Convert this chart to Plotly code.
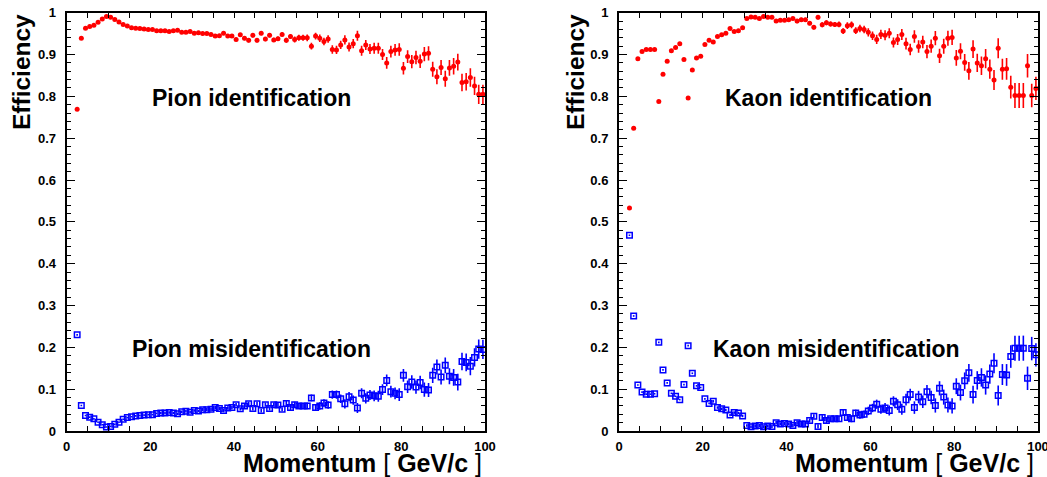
import plotly.graph_objects as go

# momentum bin centres (GeV/c)
momentum = [2.5 + i for i in range(98)]

pion_id = [0.769, 0.939, 0.963, 0.967, 0.970, 0.977, 0.985, 0.991, 0.989, 0.984,
           0.978, 0.972, 0.968, 0.964, 0.963, 0.962, 0.961, 0.960, 0.960, 0.957,
           0.957, 0.957, 0.955, 0.957, 0.958, 0.953, 0.953, 0.955, 0.951, 0.952,
           0.950, 0.950, 0.948, 0.944, 0.945, 0.951, 0.944, 0.944, 0.936, 0.947,
           0.939, 0.934, 0.946, 0.934, 0.951, 0.937, 0.946, 0.935, 0.938, 0.948,
           0.934, 0.943, 0.936, 0.940, 0.940, 0.940, 0.920, 0.944, 0.939, 0.931,
           0.937, 0.912, 0.911, 0.923, 0.935, 0.918, 0.926, 0.945, 0.909, 0.923,
           0.913, 0.915, 0.915, 0.900, 0.880, 0.907, 0.911, 0.912, 0.867, 0.895,
           0.883, 0.893, 0.884, 0.901, 0.903, 0.865, 0.847, 0.869, 0.842, 0.868,
           0.872, 0.882, 0.833, 0.835, 0.845, 0.825, 0.805, 0.805]

pion_mis = [0.230, 0.061, 0.037, 0.033, 0.029, 0.021, 0.015, 0.0095, 0.011, 0.016,
            0.021, 0.028, 0.032, 0.034, 0.036, 0.037, 0.038, 0.039, 0.039, 0.042,
            0.043, 0.043, 0.044, 0.043, 0.041, 0.046, 0.047, 0.045, 0.049, 0.048,
            0.051, 0.051, 0.052, 0.056, 0.054, 0.049, 0.055, 0.056, 0.063, 0.053,
            0.060, 0.065, 0.054, 0.065, 0.049, 0.063, 0.054, 0.063, 0.062, 0.052,
            0.066, 0.056, 0.063, 0.060, 0.060, 0.060, 0.079, 0.056, 0.060, 0.067,
            0.062, 0.087, 0.087, 0.077, 0.065, 0.082, 0.074, 0.055, 0.090, 0.078,
            0.086, 0.084, 0.083, 0.099, 0.121, 0.094, 0.090, 0.087, 0.133, 0.106,
            0.117, 0.105, 0.116, 0.099, 0.098, 0.133, 0.153, 0.129, 0.157, 0.131,
            0.128, 0.117, 0.166, 0.164, 0.155, 0.176, 0.196, 0.195]

kaon_id = [0.533, 0.724, 0.890, 0.907, 0.912, 0.912, 0.912, 0.788, 0.853, 0.884,
           0.909, 0.917, 0.926, 0.888, 0.796, 0.863, 0.892, 0.896, 0.924, 0.934,
           0.930, 0.943, 0.947, 0.951, 0.962, 0.955, 0.957, 0.964, 0.986, 0.990,
           0.989, 0.986, 0.991, 0.989, 0.989, 0.980, 0.982, 0.982, 0.983, 0.986,
           0.980, 0.983, 0.983, 0.975, 0.965, 0.989, 0.971, 0.976, 0.973, 0.972,
           0.972, 0.956, 0.969, 0.971, 0.957, 0.962, 0.960, 0.953, 0.945, 0.936,
           0.948, 0.946, 0.951, 0.929, 0.936, 0.948, 0.926, 0.912, 0.943, 0.919,
           0.930, 0.907, 0.920, 0.939, 0.897, 0.920, 0.939, 0.941, 0.892, 0.908,
           0.881, 0.861, 0.913, 0.880, 0.873, 0.890, 0.865, 0.839, 0.915, 0.865,
           0.866, 0.822, 0.802, 0.802, 0.802, 0.873, 0.802, 0.819]

kaon_mis = [0.468, 0.275, 0.110, 0.093, 0.088, 0.088, 0.089, 0.212, 0.146, 0.115,
            0.090, 0.083, 0.075, 0.111, 0.204, 0.138, 0.108, 0.104, 0.077, 0.066,
            0.071, 0.056, 0.053, 0.050, 0.038, 0.044, 0.043, 0.036, 0.013, 0.010,
            0.012, 0.013, 0.010, 0.012, 0.011, 0.020, 0.017, 0.018, 0.017, 0.013,
            0.020, 0.017, 0.017, 0.025, 0.035, 0.011, 0.032, 0.025, 0.029, 0.029,
            0.029, 0.044, 0.032, 0.029, 0.043, 0.038, 0.040, 0.048, 0.055, 0.064,
            0.052, 0.055, 0.049, 0.071, 0.063, 0.052, 0.075, 0.087, 0.056, 0.081,
            0.070, 0.094, 0.080, 0.061, 0.102, 0.081, 0.062, 0.060, 0.107, 0.092,
            0.120, 0.139, 0.087, 0.121, 0.128, 0.110, 0.136, 0.162, 0.085, 0.135,
            0.134, 0.178, 0.198, 0.198, 0.198, 0.126, 0.197, 0.182]

pion_err = [0.002, 0.002, 0.002, 0.002, 0.002, 0.002, 0.002, 0.002, 0.002, 0.002,
            0.002, 0.002, 0.002, 0.002, 0.002, 0.002, 0.002, 0.002, 0.002, 0.002,
            0.003, 0.003, 0.003, 0.003, 0.003, 0.003, 0.003, 0.003, 0.003, 0.003,
            0.004, 0.004, 0.004, 0.004, 0.004, 0.004, 0.004, 0.004, 0.004, 0.004,
            0.005, 0.005, 0.005, 0.005, 0.005, 0.005, 0.005, 0.005, 0.005, 0.005,
            0.006, 0.006, 0.007, 0.007, 0.007, 0.008, 0.008, 0.008, 0.009, 0.009,
            0.009, 0.010, 0.010, 0.010, 0.011, 0.011, 0.011, 0.012, 0.012, 0.012,
            0.012, 0.013, 0.013, 0.013, 0.014, 0.014, 0.014, 0.015, 0.015, 0.015,
            0.016, 0.016, 0.016, 0.017, 0.017, 0.018, 0.018, 0.018, 0.019, 0.019,
            0.020, 0.020, 0.021, 0.021, 0.022, 0.022, 0.023, 0.023]

kaon_err = [0.002, 0.002, 0.002, 0.002, 0.002, 0.002, 0.002, 0.002, 0.002, 0.002,
            0.002, 0.002, 0.002, 0.002, 0.002, 0.002, 0.002, 0.002, 0.002, 0.002,
            0.003, 0.003, 0.003, 0.003, 0.003, 0.003, 0.003, 0.003, 0.003, 0.003,
            0.004, 0.004, 0.004, 0.004, 0.004, 0.004, 0.004, 0.004, 0.004, 0.004,
            0.005, 0.005, 0.005, 0.005, 0.005, 0.005, 0.006, 0.006, 0.006, 0.006,
            0.007, 0.007, 0.008, 0.008, 0.008, 0.009, 0.009, 0.010, 0.010, 0.011,
            0.011, 0.012, 0.012, 0.012, 0.013, 0.013, 0.014, 0.014, 0.015, 0.015,
            0.015, 0.016, 0.016, 0.017, 0.017, 0.018, 0.018, 0.018, 0.019, 0.019,
            0.020, 0.021, 0.021, 0.022, 0.022, 0.023, 0.023, 0.024, 0.024, 0.025,
            0.026, 0.027, 0.030, 0.030, 0.030, 0.028, 0.028, 0.028]

x_ticks = [0, 20, 40, 60, 80, 100]
y_ticks = [0, 0.1, 0.2, 0.3, 0.4, 0.5, 0.6, 0.7, 0.8, 0.9, 1]
y_tick_text = ["0", "0.1", "0.2", "0.3", "0.4", "0.5", "0.6", "0.7", "0.8", "0.9", "1"]

W, H = 1047, 477
RED = "#ff0000"
BLUE = "#0000ff"
FONT = "Liberation Sans"


def id_trace(y, err, xa, ya):
    return go.Scatter(
        x=momentum, y=y, mode="markers", xaxis=xa, yaxis=ya,
        marker=dict(symbol="circle", size=5, color=RED, line=dict(width=0)),
        error_y=dict(type="data", array=err, visible=True, color=RED,
                     thickness=1.6, width=0),
        showlegend=False, hoverinfo="x+y")


def mis_trace(y, err, xa, ya):
    return go.Scatter(
        x=momentum, y=y, mode="markers", xaxis=xa, yaxis=ya,
        marker=dict(symbol="square-open", size=5.5, color=BLUE,
                    line=dict(width=1.5, color=BLUE)),
        error_y=dict(type="data", array=err, visible=True, color=BLUE,
                     thickness=1.6, width=0),
        showlegend=False, hoverinfo="x+y")


fig = go.Figure()
fig.add_trace(id_trace(pion_id, pion_err, "x", "y"))
fig.add_trace(mis_trace(pion_mis, pion_err, "x", "y"))
fig.add_trace(id_trace(kaon_id, kaon_err, "x2", "y2"))
fig.add_trace(mis_trace(kaon_mis, kaon_err, "x2", "y2"))

tickfont = dict(family=FONT, size=13, color="black", weight="bold")


def xaxis(domain, anchor):
    return dict(domain=domain, anchor=anchor, range=[0, 100], automargin=False,
                tickvals=x_ticks, ticktext=[str(v) for v in x_ticks],
                ticks="inside", ticklen=5, tickwidth=1.2, tickcolor="black",
                minor=dict(dtick=5, tick0=0, ticks="inside", ticklen=5,
                           tickwidth=1.2, tickcolor="black"),
                showline=True, linecolor="black", linewidth=2, mirror="allticks",
                showgrid=False, zeroline=False, tickfont=tickfont,
                ticklabelstandoff=2, ticklabeloverflow="allow")


def yaxis(domain, anchor):
    return dict(domain=domain, anchor=anchor, range=[0, 1], automargin=False,
                tickvals=y_ticks, ticktext=y_tick_text,
                ticks="inside", ticklen=8, tickwidth=1.2, tickcolor="black",
                minor=dict(dtick=0.02, tick0=0, ticks="inside", ticklen=4,
                           tickwidth=1.2, tickcolor="black"),
                showline=True, linecolor="black", linewidth=2, mirror="allticks",
                showgrid=False, zeroline=False, tickfont=tickfont,
                ticklabelstandoff=6, ticklabeloverflow="allow")


ydom = [1 - 431 / H, 1 - 12.7 / H]
fig.update_layout(
    template="none",
    width=W, height=H, margin=dict(l=0, r=0, t=0, b=0, autoexpand=False),
    paper_bgcolor="white", plot_bgcolor="white",
    xaxis=xaxis([66.7 / W, 485 / W], "y"),
    yaxis=yaxis(ydom, "x"),
    xaxis2=xaxis([619 / W, 1038 / W], "y2"),
    yaxis2=yaxis(ydom, "x2"),
)

big = dict(family=FONT, size=23, color="black", weight="bold")
labels = [
    ("Pion identification", 251, 98),
    ("Pion misidentification", 251, 349),
    ("Kaon identification", 828, 98),
    ("Kaon misidentification", 836, 349),
]
for txt, px, py in labels:
    fig.add_annotation(text=txt, x=px / W, y=1 - py / H, xref="paper", yref="paper",
                       xanchor="center", yanchor="middle", showarrow=False, font=big)

title_font = dict(family=FONT, size=24.5, color="black")
for px in (22, 576):
    fig.add_annotation(text="<b>Efficiency</b>", x=px / W, y=1 - 72 / H,
                       xref="paper", yref="paper", textangle=-90,
                       xanchor="center", yanchor="middle", showarrow=False,
                       font=title_font)
for px in (484, 1036):
    fig.add_annotation(text="<b>Momentum</b> [ <b>GeV/c</b> ]", x=px / W, y=1 - 462.5 / H,
                       xref="paper", yref="paper", xanchor="right", yanchor="middle",
                       showarrow=False, font=dict(family=FONT, size=25, color="black"))

fig.write_html("out.html")
